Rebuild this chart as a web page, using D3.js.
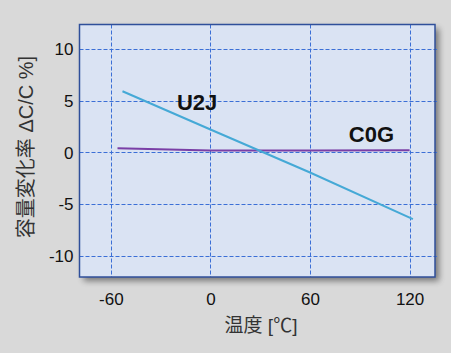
<!DOCTYPE html>
<html><head><meta charset="utf-8">
<script src="https://cdn.jsdelivr.net/npm/d3@7"></script>
<style>
html,body{margin:0;padding:0;background:#d9d9d9;}
svg{display:block;}
</style></head>
<body>
<svg id="c" width="451" height="353"></svg>
<script>
const xTicks = [-60, 0, 60, 120];
const yTicks = [-10, -5, 0, 5, 10];
const yTickLabels = ["-10", "-5", "0", "5", "10"];
const u2jTemp = [-53, 0, 60, 122];
const u2jValues = [5.9, 2.2, -1.95, -6.45];
const c0gTemp = [-56, 0, 60, 120];
const c0gValues = [0.38, 0.17, 0.17, 0.19];
const seriesNames = ["U2J", "C0G"];
const xTitle = "温度 [℃]";
const yTitle = "容量変化率 ΔC/C %]";

const svg = d3.select("#c");
const L = 79.5, R = 435, T = 24.5, B = 277;
const x = d3.scaleLinear().domain([-78.9, 135.3]).range([L, R]);
const y = d3.scaleLinear().domain([-12.05, 12.35]).range([B, T]);

const defs = svg.append("defs");
const f = defs.append("filter").attr("id","sh").attr("x","-10%").attr("y","-10%").attr("width","130%").attr("height","130%");
f.append("feGaussianBlur").attr("in","SourceAlpha").attr("stdDeviation",3);
f.append("feOffset").attr("dx",4).attr("dy",4).attr("result","b");
f.append("feComponentTransfer").append("feFuncA").attr("type","linear").attr("slope",0.45);
const m = f.append("feMerge"); m.append("feMergeNode"); m.append("feMergeNode").attr("in","SourceGraphic");

svg.append("rect").attr("x",L).attr("y",T).attr("width",R-L).attr("height",B-T)
  .attr("fill","#dae3f3").attr("filter","url(#sh)");

const grid = svg.append("g").attr("stroke","#3b6fd6").attr("stroke-width",1).attr("stroke-dasharray","4,2");
grid.selectAll("line.v").data(xTicks).join("line")
  .attr("x1",d=>Math.round(x(d))+0.5).attr("x2",d=>Math.round(x(d))+0.5).attr("y1",T).attr("y2",B);
grid.selectAll("line.h").data(yTicks).join("line")
  .attr("x1",L).attr("x2",R+2).attr("y1",d=>Math.round(y(d))+0.5).attr("y2",d=>Math.round(y(d))+0.5);

svg.append("rect").attr("x",L).attr("y",T).attr("width",R-L).attr("height",B-T)
  .attr("fill","none").attr("stroke","#2f4f9a").attr("stroke-width",1.5);

const line = d3.line().x(d=>x(d[0])).y(d=>y(d[1]));
svg.append("path").datum(c0gTemp.map((t,i)=>[t,c0gValues[i]]))
  .attr("d",line).attr("fill","none").attr("stroke","#7a3fa6").attr("stroke-width",2);
svg.append("path").datum(u2jTemp.map((t,i)=>[t,u2jValues[i]]))
  .attr("d",line).attr("fill","none").attr("stroke","#45a9d6").attr("stroke-width",2);

const font = "'Liberation Sans', Arial, sans-serif";
const xAxis = d3.axisBottom(x).tickValues(xTicks).tickSize(0).tickPadding(0).tickFormat(d=>String(d));
const gx = svg.append("g").attr("transform",`translate(0,${B})`).call(xAxis);
gx.select(".domain").remove();
gx.selectAll("text").attr("dy",0).attr("y",28).attr("font-size",17).attr("font-family",font).attr("fill","#111");

const yAxis = d3.axisLeft(y).tickValues(yTicks).tickSize(0).tickPadding(0).tickFormat((d,i)=>yTickLabels[i]);
const gy = svg.append("g").attr("transform",`translate(${L-6},0)`).call(yAxis);
gy.select(".domain").remove();
gy.selectAll("text").attr("dy","0.35em").attr("font-size",17).attr("font-family",font).attr("fill","#111");

const titleFont = "'Liberation Sans', 'Noto Sans CJK JP', sans-serif";
svg.append("text").attr("x",261).attr("y",332).attr("text-anchor","middle")
  .attr("font-size",19).attr("font-family",titleFont).attr("fill","#333").text(xTitle);
svg.append("text").attr("transform",`translate(33,147) rotate(-90)`).attr("text-anchor","middle")
  .attr("font-size",20).attr("font-family",titleFont).attr("fill","#333").text(yTitle);

svg.append("text").attr("x",x(-8)).attr("y",y(4.05)).attr("text-anchor","middle")
  .attr("font-size",22).attr("font-weight","bold").attr("font-family",font).attr("fill","#111").text(seriesNames[0]);
svg.append("text").attr("x",x(97)).attr("y",y(0.95)).attr("text-anchor","middle")
  .attr("font-size",22).attr("font-weight","bold").attr("font-family",font).attr("fill","#111").text(seriesNames[1]);
</script>
</body></html>
